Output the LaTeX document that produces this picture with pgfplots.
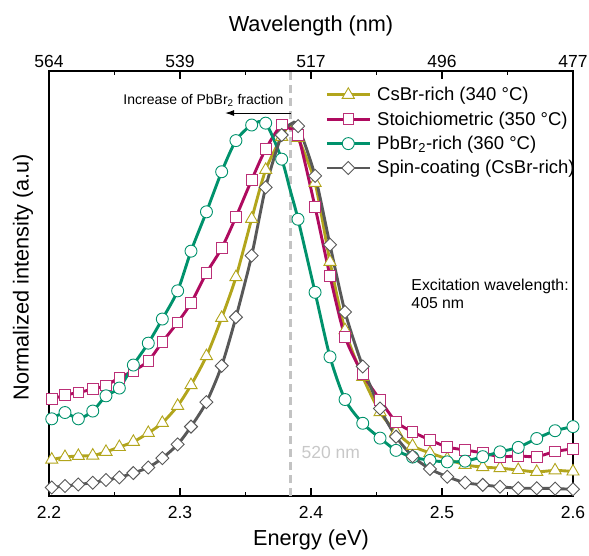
\documentclass[border=0pt]{standalone}
\usepackage{fontspec}
\setmainfont{Liberation Sans}
\usepackage{pgfplots}
\pgfplotsset{compat=1.18}
\usepackage{pgfplotstable}
\usetikzlibrary{arrows.meta}

\definecolor{olivec}{RGB}{178,165,28}
\definecolor{magc}{RGB}{175,10,95}
\definecolor{greenc}{RGB}{0,146,108}
\definecolor{grayc}{RGB}{88,88,88}
\definecolor{dashc}{RGB}{195,195,195}
\definecolor{lbl520}{RGB}{200,200,200}

\pgfdeclareplotmark{rdiamond}{%
  \pgfpathmoveto{\pgfqpoint{0pt}{\pgfplotmarksize}}%
  \pgfpathlineto{\pgfqpoint{\pgfplotmarksize}{0pt}}%
  \pgfpathlineto{\pgfqpoint{0pt}{-\pgfplotmarksize}}%
  \pgfpathlineto{\pgfqpoint{-\pgfplotmarksize}{0pt}}%
  \pgfpathclose
  \pgfusepathqfillstroke}

\newcommand\tickfont{\fontsize{17.5}{20}\selectfont}
\newcommand\labfont{\fontsize{21.7}{25}\selectfont}
\newcommand\legfont{\fontsize{18.5}{21}\selectfont}
\newcommand\annfont{\fontsize{15.8}{18}\selectfont}
\newcommand\incfont{\fontsize{14}{16}\selectfont}

% CsBr-rich (340 C)
\pgfplotstableread{
E y
2.2021 0.098
2.2122 0.105
2.2224 0.108
2.2334 0.109
2.2435 0.119
2.2537 0.132
2.2644 0.146
2.2758 0.170
2.2865 0.197
2.2982 0.243
2.3084 0.299
2.3202 0.377
2.3318 0.480
2.3427 0.590
2.3547 0.747
2.3654 0.879
2.3776 0.968
2.3840 1.000
2.3901 0.965
2.4031 0.844
2.4145 0.631
2.4260 0.447
2.4395 0.321
2.4527 0.226
2.4649 0.173
2.4775 0.135
2.4908 0.116
2.5040 0.100
2.5176 0.084
2.5311 0.078
2.5443 0.075
2.5582 0.070
2.5723 0.065
2.5863 0.069
2.6000 0.066
}\csbr

% Stoichiometric (350 C)
\pgfplotstableread{
E y
2.2021 0.261
2.2122 0.272
2.2224 0.279
2.2334 0.288
2.2435 0.298
2.2537 0.319
2.2644 0.337
2.2758 0.364
2.2865 0.415
2.2982 0.468
2.3084 0.520
2.3202 0.601
2.3318 0.668
2.3427 0.752
2.3547 0.852
2.3654 0.935
2.3776 1.001
2.3840 0.990
2.3901 0.973
2.4031 0.779
2.4145 0.593
2.4260 0.429
2.4395 0.329
2.4527 0.259
2.4649 0.200
2.4775 0.173
2.4908 0.151
2.5040 0.132
2.5176 0.124
2.5311 0.116
2.5443 0.106
2.5582 0.108
2.5723 0.106
2.5863 0.120
2.6000 0.127
}\stoich

% PbBr2-rich (360 C)
\pgfplotstableread{
E y
2.2021 0.208
2.2122 0.225
2.2224 0.208
2.2334 0.229
2.2435 0.270
2.2537 0.291
2.2644 0.353
2.2758 0.412
2.2865 0.477
2.2982 0.553
2.3084 0.660
2.3202 0.766
2.3318 0.874
2.3427 0.958
2.3547 1.000
2.3654 1.005
2.3776 0.908
2.3840 0.826
2.3901 0.746
2.4031 0.549
2.4145 0.375
2.4260 0.260
2.4395 0.196
2.4527 0.156
2.4649 0.123
2.4775 0.105
2.4908 0.096
2.5040 0.092
2.5176 0.094
2.5311 0.106
2.5443 0.119
2.5582 0.131
2.5723 0.155
2.5863 0.176
2.6000 0.187
}\pbbr

% Spin-coating (CsBr-rich)
\pgfplotstableread{
E y
2.2021 0.023
2.2122 0.027
2.2224 0.031
2.2334 0.036
2.2435 0.043
2.2537 0.050
2.2644 0.062
2.2758 0.077
2.2865 0.102
2.2982 0.139
2.3084 0.187
2.3202 0.253
2.3318 0.351
2.3427 0.482
2.3547 0.648
2.3654 0.832
2.3776 0.973
2.3847 1.003
2.3901 0.997
2.4031 0.863
2.4145 0.677
2.4260 0.496
2.4395 0.349
2.4527 0.236
2.4649 0.160
2.4775 0.107
2.4908 0.073
2.5040 0.052
2.5176 0.036
2.5311 0.030
2.5443 0.025
2.5582 0.021
2.5723 0.021
2.5863 0.020
2.6000 0.018
}\spin

\pgfplotsset{
  serline/.style={line width=2.9pt, smooth, tension=0.45, no markers, forget plot},
  sermark/.style={only marks, forget plot, skip coords between index={17}{18},
    mark options={fill=white, line width=0.9pt, solid}},
}

\begin{document}
\begin{tikzpicture}
\begin{axis}[
  name=ax,
  width=524pt, height=425pt, scale only axis,
  xmin=2.2, xmax=2.6, ymin=0, ymax=1.1456,
  xtick={2.2,2.3,2.4,2.5,2.6},
  xticklabels={2.2,2.3,2.4,2.5,2.6},
  minor x tick num=1,
  xtick pos=left,
  ytick=\empty,
  tick align=inside,
  major tick length=8pt, minor tick length=4pt,
  axis line style={line width=1.1pt, black},
  every tick/.style={line width=1.1pt, black},
  xticklabel style={font=\tickfont, anchor=base, yshift=-22pt},
  clip=false,
  legend style={at={(rel axis cs:0.527,0.962)}, anchor=north west,
    draw=none, fill=none, font=\legfont, inner sep=0pt, row sep=9.5pt,
    nodes={inner sep=0pt},
    /tikz/every odd column/.append style={column sep=6pt}},
  legend cell align=left,
  legend image code/.code={\draw[mark repeat=2, mark phase=2, #1]
    plot coordinates {(0pt,0pt) (21.5pt,0pt) (43pt,0pt)};},
]
% 520 nm reference line
\addplot[forget plot, draw=dashc, line width=2.8pt, dash pattern=on 8pt off 5pt]
  coordinates {(2.3846,0) (2.3846,1.1456)};

\addplot[olivec, serline] table {\csbr};
\addplot[olivec, sermark, mark=triangle*, mark size=7pt] table {\csbr};
\addplot[magc, serline] table {\stoich};
\addplot[magc!85!white, sermark, mark=square*, mark size=5.3pt] table {\stoich};
\addplot[greenc, serline] table {\pbbr};
\addplot[greenc, sermark, mark=*, mark size=6pt] table {\pbbr};
\addplot[grayc, serline] table {\spin};
\addplot[grayc, sermark, mark=rdiamond, mark size=6.5pt] table {\spin};

\addlegendimage{olivec, line width=2.9pt, mark=triangle*, mark size=7pt, mark options={solid, fill=white, line width=0.9pt}}
\addlegendentry{CsBr-rich (340 °C)}
\addlegendimage{magc, line width=2.9pt, mark=square*, mark size=5.3pt, mark options={solid, fill=white, draw=magc!85!white, line width=0.9pt}}
\addlegendentry{Stoichiometric (350 °C)}
\addlegendimage{greenc, line width=2.9pt, mark=*, mark size=6pt, mark options={solid, fill=white, line width=0.9pt}}
\addlegendentry{PbBr\textsubscript{2}-rich (360 °C)}
\addlegendimage{grayc, line width=2.9pt, mark=rdiamond, mark size=6.5pt, mark options={solid, fill=white, line width=0.9pt}}
\addlegendentry{Spin-coating (CsBr-rich)}

% annotations
\node[anchor=base west, text=lbl520, font=\fontsize{17.5}{20}\selectfont] at (axis cs:2.3901,0.102) {520 nm};
\node[anchor=base east, font=\incfont] at (axis cs:2.3817,1.0566) {Increase of PbBr\textsubscript{2} fraction};
\draw[line width=1pt, -{Latex[length=9pt,width=6pt]}] (axis cs:2.3846,1.0323) -- (axis cs:2.3344,1.0323);
\node[anchor=base west, font=\annfont] at (axis cs:2.474,0.5534) {Excitation wavelength:};
\node[anchor=base west, font=\annfont] at (axis cs:2.474,0.5049) {405 nm};

% axis labels
\node[anchor=base, font=\labfont] at (rel axis cs:0.5,-0.1165) {Energy (eV)};
\node[anchor=base, font=\labfont] at (rel axis cs:0.5,1.0941) {Wavelength (nm)};
\node[anchor=base, rotate=90, font=\labfont] at (rel axis cs:-0.0391,0.515) {Normalized intensity (a.u)};
\end{axis}

\begin{axis}[
  width=524pt, height=425pt, scale only axis,
  xmin=2.2, xmax=2.6, ymin=0, ymax=1,
  axis x line*=top, axis y line=none,
  xtick={2.2,2.3,2.4,2.5,2.6},
  xticklabels={564,539,517,496,477},
  minor x tick num=1,
  tick align=inside,
  major tick length=8pt, minor tick length=4pt,
  axis line style={line width=1.1pt, black},
  every tick/.style={line width=1.1pt, black},
  xticklabel style={font=\tickfont, anchor=base, yshift=3pt},
]
\end{axis}

\pgfresetboundingbox
\path ([xshift=-49pt,yshift=-59pt]ax.south west) rectangle ([xshift=16pt,yshift=71pt]ax.north east);
\end{tikzpicture}
\end{document}
